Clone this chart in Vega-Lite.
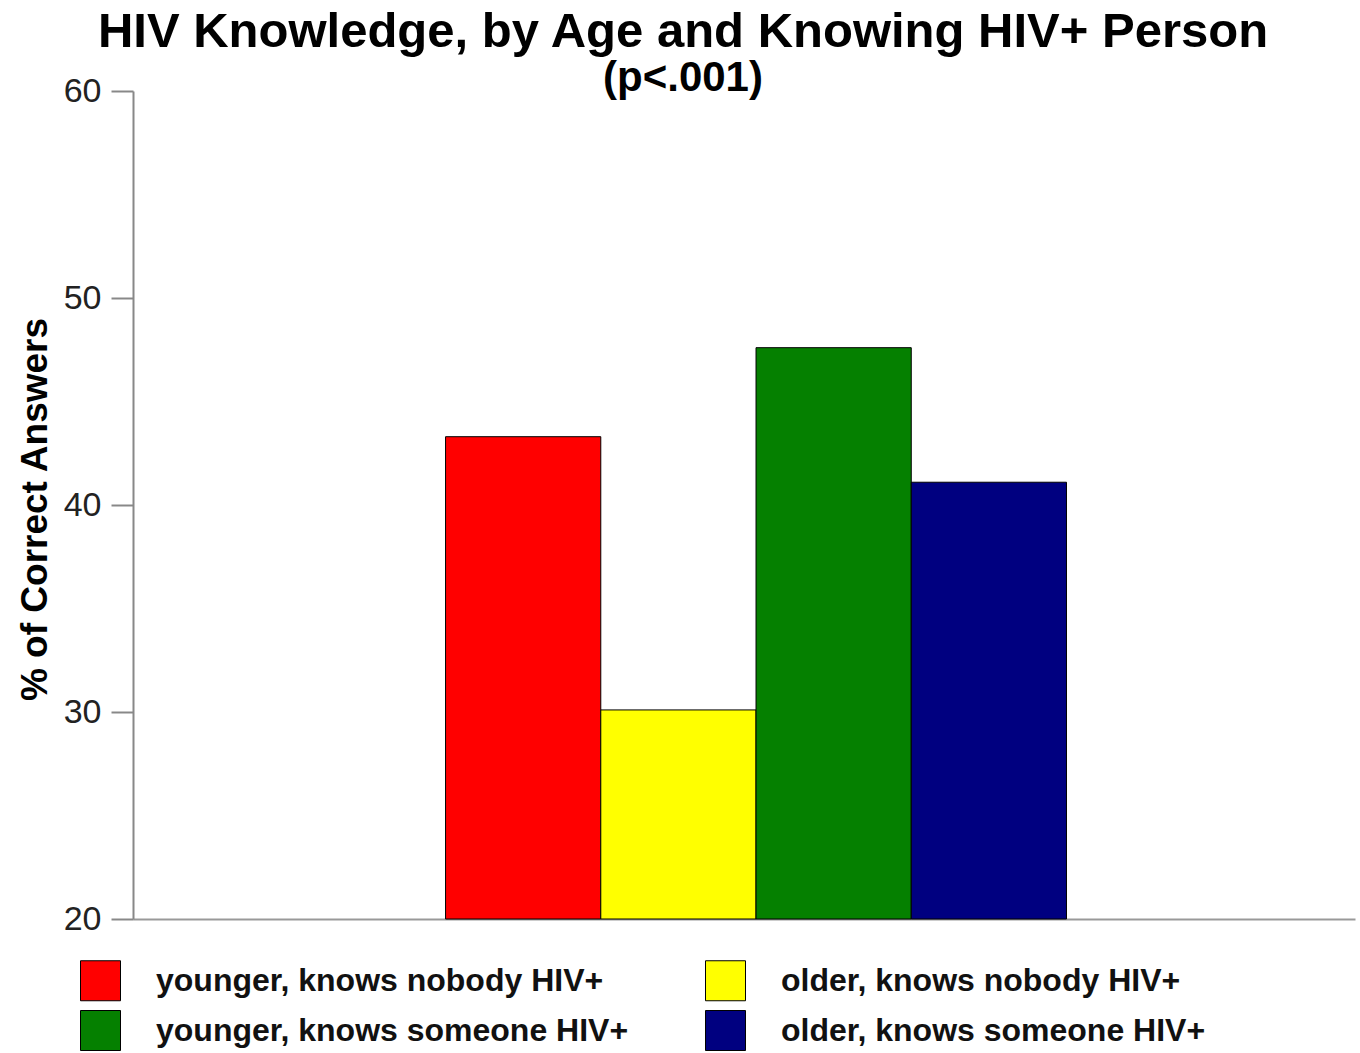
{
  "$schema": "https://vega.github.io/schema/vega-lite/v6.json",
  "width": 1222,
  "height": 828,
  "autosize": "none",
  "padding": {"left": 133, "top": 91, "right": 5, "bottom": 134},
  "background": "white",
  "title": {
    "text": "HIV Knowledge, by Age and Knowing HIV+ Person",
    "subtitle": "(p<.001)",
    "anchor": "middle",
    "dx": -61,
    "offset": -25,
    "font": "Liberation Sans",
    "fontSize": 49,
    "fontWeight": "bold",
    "color": "black",
    "subtitleFont": "Liberation Sans",
    "subtitleFontSize": 42,
    "subtitleFontWeight": "bold",
    "subtitleColor": "black",
    "subtitlePadding": 1
  },
  "data": {
    "values": [
      {"set": "all", "group": "younger, knows nobody HIV+", "pct": 43.3},
      {"set": "all", "group": "older, knows nobody HIV+", "pct": 30.1},
      {"set": "all", "group": "younger, knows someone HIV+", "pct": 47.6},
      {"set": "all", "group": "older, knows someone HIV+", "pct": 41.1}
    ]
  },
  "mark": {"type": "bar", "stroke": "black", "strokeWidth": 1},
  "encoding": {
    "x": {
      "field": "set",
      "type": "nominal",
      "scale": {"paddingInner": 0, "paddingOuter": 0.484, "align": 0.52},
      "axis": {
        "title": null,
        "labels": false,
        "ticks": false,
        "domainColor": "#999999",
        "domainWidth": 2
      }
    },
    "xOffset": {
      "field": "group",
      "type": "nominal",
      "sort": null,
      "scale": {"paddingInner": 0, "paddingOuter": 0}
    },
    "y": {
      "field": "pct",
      "type": "quantitative",
      "scale": {"domain": [20, 60], "nice": false, "zero": false},
      "axis": {
        "title": "% of Correct Answers",
        "values": [20, 30, 40, 50, 60],
        "grid": false,
        "tickSize": 22,
        "tickColor": "#888888",
        "tickWidth": 2,
        "domainColor": "#888888",
        "domainWidth": 2,
        "labelFont": "Liberation Sans",
        "labelFontSize": 34,
        "labelColor": "#222222",
        "labelPadding": 10,
        "titleFont": "Liberation Sans",
        "titleFontSize": 37,
        "titleFontWeight": "bold",
        "titleColor": "black",
        "titleAngle": -90,
        "titleX": -98,
        "titleY": 418,
        "titleAlign": "center",
        "titleBaseline": "middle"
      }
    },
    "y2": {"datum": 20},
    "color": {
      "field": "group",
      "type": "nominal",
      "scale": {
        "domain": ["younger, knows nobody HIV+", "younger, knows someone HIV+", "older, knows nobody HIV+", "older, knows someone HIV+"],
        "range": ["#ff0000", "#058000", "#ffff00", "#000080"]
      },
      "legend": {
        "title": null,
        "orient": "none",
        "legendX": -53,
        "legendY": 869,
        "columns": 2,
        "columnPadding": 74,
        "rowPadding": 5,
        "symbolType": "square",
        "symbolSize": 1600,
        "symbolStrokeColor": "black",
        "symbolStrokeWidth": 1,
        "symbolOpacity": 1,
        "labelFont": "Liberation Sans",
        "labelFontSize": 32,
        "labelFontWeight": "bold",
        "labelColor": "#111111",
        "labelOffset": 35,
        "labelLimit": 700
      }
    }
  },
  "config": {"view": {"stroke": null}}
}
